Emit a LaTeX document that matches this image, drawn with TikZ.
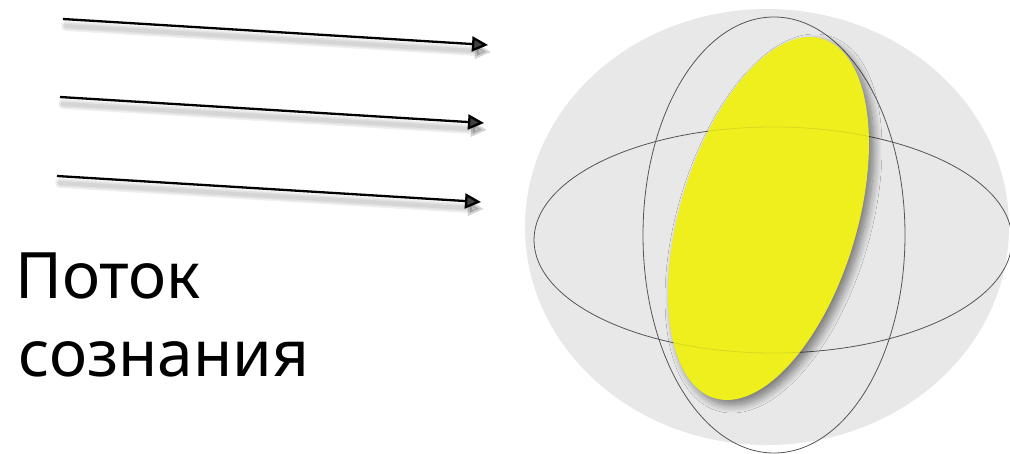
\documentclass[tikz,border=0pt]{standalone}
\usepackage{fontspec}
\setmainfont{Noto Sans}
\usetikzlibrary{arrows.meta,shadows.blur}
\definecolor{spheregray}{RGB}{232,232,232}
\definecolor{disk}{RGB}{238,239,28}
\definecolor{wire}{RGB}{85,85,85}
\tikzset{
  flow/.style={line width=2.3pt,-{Triangle[length=16pt,width=15pt]}},
  flowshadow/.style={line width=#1,draw=black,opacity=0.06,line cap=round,
     -{Triangle[length=16pt,width=15pt]}},
  orbit/.style={draw=wire,line width=0.8pt},
  label/.style={font=\fontsize{64}{78}\selectfont,anchor=base west,inner sep=0pt}
}
\begin{document}
\begin{tikzpicture}[x=1pt,y=-1pt]
\useasboundingbox (0,0) rectangle (1010,453);
\clip (0,0) rectangle (1010,453);
% sphere
\fill[spheregray] (767,227) ellipse[x radius=242,y radius=218];
\draw[orbit] (773,240) ellipse[x radius=239,y radius=113];
\draw[orbit] (774,235) ellipse[x radius=131,y radius=218];
% disk
\fill[disk,blur shadow={shadow xshift=5pt,shadow yshift=-5pt,shadow blur radius=8pt,shadow blur steps=12,shadow opacity=50}]
  (768.5,218.5) ellipse[x radius=88.5,y radius=187.6,rotate=-16.7];
\begin{scope}
\clip (768.5,218.5) ellipse[x radius=88.5,y radius=187.6,rotate=-16.7];
\draw[orbit,opacity=0.15] (773,240) ellipse[x radius=239,y radius=113];
\end{scope}
% arrows
\coordinate (s1) at (63,19);  \coordinate (e1) at (488,45);
\coordinate (s2) at (60,97);  \coordinate (e2) at (484,123);
\coordinate (s3) at (57,176); \coordinate (e3) at (481,202);
\foreach \i in {1,2,3}{
  \foreach \w in {10pt,7pt,4pt}{
    \draw[flowshadow=\w] ([shift={(3,7)}]s\i) -- ([shift={(3,7)}]e\i);
  }
  \draw[flow] (s\i) -- (e\i);
}
% label
\node[label] (t1) at (15,298) {Поток};
\node[label] (t2) at (18,376) {сознания};
\end{tikzpicture}
\end{document}
